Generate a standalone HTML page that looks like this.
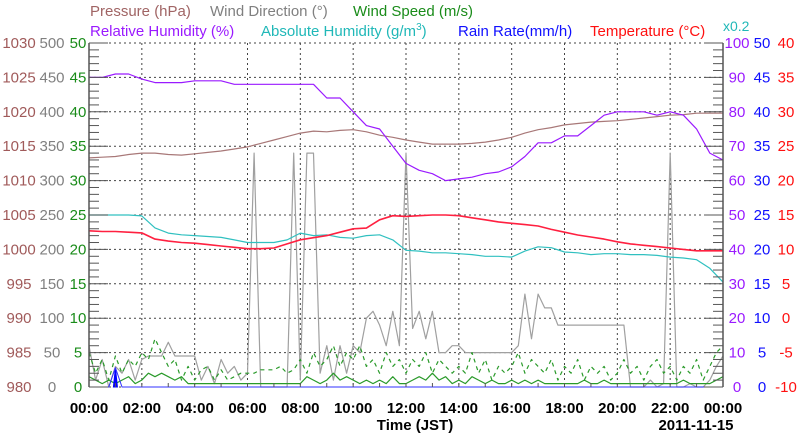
<!DOCTYPE html>
<html><head><meta charset="utf-8"><style>
html,body{margin:0;padding:0;background:#fff;}
svg{display:block;font-family:"Liberation Sans",sans-serif;}
</style></head><body>
<svg id="chart" width="800" height="434" viewBox="0 0 800 434" xmlns="http://www.w3.org/2000/svg">
<g id="grid"></g>
<g id="series"></g>
<g id="axes"></g>
<g id="legend" font-size="15">
<text x="90" y="16" fill="#a06464">Pressure (hPa)</text>
<text x="210" y="16" fill="#808080">Wind Direction (°)</text>
<text x="353" y="16" fill="#1a8c1a">Wind Speed (m/s)</text>
<text x="90" y="36" fill="#9a1aff">Relative Humidity (%)</text>
<text x="261" y="36" fill="#20b8b8">Absolute Humidity (g/m<tspan dy="-6" font-size="10">3</tspan><tspan dy="6">)</tspan></text>
<text x="458" y="36" fill="#1010ff">Rain Rate(mm/h)</text>
<text x="590" y="36" fill="#ff1010">Temperature (°C)</text>
<text x="723" y="31" fill="#20b8b8" font-size="14">x0.2</text>
</g>
</svg>
<script>
// half-hourly series 00:00 .. 24:00 (49 points)
const pressure = [1013.3,1013.4,1013.5,1013.8,1014.0,1014.0,1013.8,1013.7,1013.9,1014.1,1014.3,1014.6,1014.9,1015.4,1015.9,1016.4,1016.9,1017.2,1017.1,1017.3,1017.4,1017.1,1016.6,1016.3,1015.9,1015.6,1015.3,1015.3,1015.3,1015.4,1015.6,1015.9,1016.3,1016.9,1017.4,1017.7,1018.1,1018.3,1018.5,1018.6,1018.7,1018.9,1019.1,1019.3,1019.5,1019.6,1019.8,1019.8,1019.8];
const temperature = [12.7,12.6,12.6,12.5,12.4,11.5,11.2,11.0,10.9,10.7,10.5,10.3,10.1,10.1,10.2,10.8,11.4,11.7,12.0,12.5,13.0,13.1,14.3,14.9,14.8,14.9,15.0,15.0,14.9,14.6,14.3,14.0,13.8,13.6,13.4,12.9,12.5,12.1,11.8,11.5,11.1,10.8,10.6,10.4,10.2,10.0,9.8,9.8,9.8];
const absHumidity = [10.0,10.0,10.0,10.0,9.95,9.25,8.95,8.85,8.8,8.75,8.7,8.55,8.4,8.4,8.4,8.55,8.95,8.8,8.85,8.7,8.65,8.8,8.85,8.55,7.95,7.9,7.8,7.8,7.75,7.7,7.6,7.6,7.55,7.9,8.15,8.1,7.85,7.8,7.7,7.75,7.75,7.7,7.7,7.65,7.55,7.5,7.4,6.9,6.1];
const relHumidity = [90,90,91,91,89.5,88.5,88.5,88.5,89,89,89,88,88,88,88,88,88,88,84,84,80,76,75,70,65,63,62,60,60.5,61,62,62.5,64,67,71,71,73,73,76,79,80,80,80,79,80,79,75,68,66];
// 15-minute series 00:00 .. 24:00 (97 points)
const windDir = [60,10,40,0,30,20,40,10, 40,45,45,45,65,45,45,45, 45,10,30,5,40,20,30,10, 20,340,0,0,0,0,0,340, 10,340,340,20,60,10,60,20, 60,50,100,110,90,60,110,60, 340,85,110,70,110,50,50,60, 60,50,50,50,50,50,50,50, 50,60,135,70,135,115,115,90, 90,90,90,90,90,90,90,90, 90,90,0,0,0,10,0,5, 340,0,0,5,0,0,10,30, 45];
const windAvg = [1.5,1,0.5,1,0.5,1,1.5,0.5, 1,2,1.5,2,1.5,1,1.5,0.5, 0.5,0.5,0.5,0.5,0.5,0.5,0.5,0.5, 0.5,0.5,0.5,0.5,0.5,0.5,0.5,0.5, 0.5,1.5,1,0.5,1,2,1,1.5, 1,0.5,1,0.5,1,0.5,1.5,0.5, 0.5,1,1.5,1,2,1,1.5,0.5, 1,0.5,1.5,1,0.5,1,0.5,0.5, 1,0.5,1,0.5,1,0.5,0.5,0.5, 0.5,0.5,0.5,1,0.5,0.5,1,0.5, 0.5,0.5,0.5,0.5,0.5,0.5,0.5,0.5, 0.5,0.5,1,0.5,0.5,0.5,0.5,1, 1.5];
const windGust = [5,2,4,1,4.5,2,4,3, 5,4,7,5,3,4,1,3, 1,2.5,3,1,2.5,1,1.5,2, 2,2,2.5,2.5,2.5,3,2,2.5, 4,2,5,3,4,6,3,5, 4,6,3,4,2,5,3,4, 2,4,3,5,2,4,3,2, 3,2,5,2,4,1,3,2, 3,5,2,4,3,2,4,1, 3,2,4,1,3,2,3,1, 2,4,2,3,1,3,4,2, 3,1,3,2,4,1,3,5, 6];
const rainRate = [0,0,0,0,2.8,0,0,0, 0,0,0,0,0,0,0,0, 0,0,0,0,0,0,0,0, 0,0,0,0,0,0,0,0, 0,0,0,0,0,0,0,0, 0,0,0,0,0,0,0,0, 0,0,0,0,0,0,0,0, 0,0,0,0,0,0,0,0, 0,0,0,0,0,0,0,0, 0,0,0,0,0,0,0,0, 0,0,0,0,0,0,0,0, 0,0,0,0,0,0,0,0, 0];
const xTickLabels = ["00:00","02:00","04:00","06:00","08:00","10:00","12:00","14:00","16:00","18:00","20:00","22:00","00:00"];
const pressureTicks = [980,985,990,995,1000,1005,1010,1015,1020,1025,1030];
const windDirTicks = [0,50,100,150,200,250,300,350,400,450,500];
const windSpeedTicks = [0,5,10,15,20,25,30,35,40,45,50];
const rhTicks = [0,10,20,30,40,50,60,70,80,90,100];
const rainTicks = [0,5,10,15,20,25,30,35,40,45,50];
const tempTicks = [-10,-5,0,5,10,15,20,25,30,35,40];

const NS = "http://www.w3.org/2000/svg";
const L = 89, R = 723, T = 43, B = 387;
function xs(h){ return L + h/24*(R-L); }
function ys(v,min,max){ return B - (v-min)/(max-min)*(B-T); }
function mk(tag, attrs, parent){ const e=document.createElementNS(NS,tag); for(const k in attrs) e.setAttribute(k,attrs[k]); parent.appendChild(e); return e; }
const grid=document.getElementById('grid'), ser=document.getElementById('series'), ax=document.getElementById('axes');

for(let i=0;i<=10;i++){ const y=ys(i,0,10);
  const g=mk('line',{x1:L,x2:R,y1:y,y2:y,stroke:'#444','stroke-width':1,'stroke-dasharray':'2,3'},grid);
  
   }
for(let i=1;i<12;i++){ const x=xs(i*2);
  const g=mk('line',{x1:x,x2:x,y1:T,y2:B,stroke:'#444','stroke-width':1,'stroke-dasharray':'2,3'},grid);
  
   }

function line(arr, step, min, max, color, name, extra){
  const pts=arr.map((v,i)=>xs(i*step).toFixed(1)+','+ys(v,min,max).toFixed(1)).join(' ');
  const p=mk('polyline',Object.assign({points:pts,fill:'none',stroke:color,'stroke-width':1.2,'stroke-linejoin':'round'},extra||{}),ser);
  
  
}
line(windDir,0.25,0,500,'#a0a0a0','wind-direction-line');
line(windGust,0.25,0,50,'#2a9a2a','wind-gust-line',{'stroke-dasharray':'4,4'});
line(windAvg,0.25,0,50,'#2a9a2a','wind-speed-line');
rainRate.forEach((v,i)=>{ if(v>0){
  const p=mk('polygon',{points:(xs(i*0.25)-2)+','+B+' '+xs(i*0.25)+','+ys(v,0,50)+' '+(xs(i*0.25)+2)+','+B,fill:'#0000ff',stroke:'#0000ff','stroke-width':1},ser);
  
   } });
line(rainRate,0.25,0,50,'#3030ff','rain-rate-line',{'stroke-width':1});
line(pressure,0.5,980,1030,'#a87878','pressure-line');
line(absHumidity,0.5,0,20,'#30c0c0','absolute-humidity-line');
line(temperature,0.5,-10,40,'#ff2040','temperature-line',{'stroke-width':1.6});
line(relHumidity,0.5,0,100,'#9a1aff','relative-humidity-line');

// axes
const la=mk('line',{x1:L,x2:L,y1:T,y2:B,stroke:'#555','stroke-width':1.5},ax);


const ra=mk('line',{x1:R,x2:R,y1:T,y2:B,stroke:'#555','stroke-width':1.5},ax);


for(let i=0;i<=50;i++){ const y=ys(i,0,50), len=(i%5===0)?19:10;
  const t1=mk('line',{x1:L,x2:L+len,y1:y,y2:y,stroke:'#555','stroke-width':1},ax);
  
  
  const t2=mk('line',{x1:R-len,x2:R,y1:y,y2:y,stroke:'#555','stroke-width':1},ax);
  
   }
for(let i=0;i<=24;i++){ const x=xs(i);
  const t=mk('line',{x1:x,x2:x,y1:B,y2:B-4,stroke:'#555','stroke-width':1},ax);
  
   }
function ticks(arr,min,max,cx,color,name){
  arr.forEach(v=>{ const t=mk('text',{x:cx,y:ys(v,min,max)+5,fill:color,'font-size':15,'text-anchor':'middle'},ax);
    t.textContent=v;
    
     });
}
ticks(pressureTicks,980,1030,19,'#a05a5a','pressure-tick-label');
ticks(windDirTicks,0,500,52,'#808080','wind-direction-tick-label');
ticks(windSpeedTicks,0,50,78,'#1a8c1a','wind-speed-tick-label');
ticks(rhTicks,0,100,737,'#9a1aff','rh-tick-label');
ticks(rainTicks,0,50,762,'#1010ff','rain-tick-label');
ticks(tempTicks,-10,40,786,'#ff1010','temperature-tick-label');
xTickLabels.forEach((s,i)=>{ const t=mk('text',{x:xs(i*2),y:413,'font-size':15,'font-weight':'bold','text-anchor':'middle',fill:'#000'},ax);
  t.textContent=s;
  
   });
const xt=mk('text',{x:415,y:430,'font-size':15,'font-weight':'bold','text-anchor':'middle',fill:'#000'},ax);
xt.textContent='Time (JST)';


const dt=mk('text',{x:696,y:430,'font-size':15,'font-weight':'bold','text-anchor':'middle',fill:'#000'},ax);
dt.textContent='2011-11-15';


</script>
</body></html>
